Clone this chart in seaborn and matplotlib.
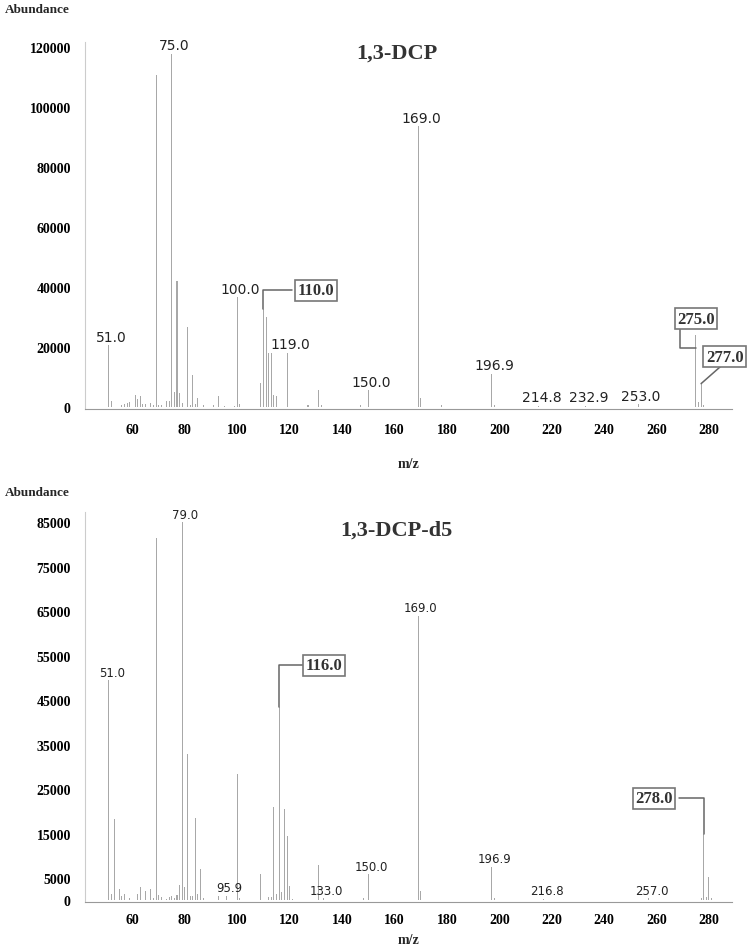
import numpy as np
import pandas as pd
import matplotlib
matplotlib.use("Agg")
import matplotlib.pyplot as plt
import seaborn as sns
from matplotlib.ticker import MultipleLocator, FixedLocator

# ---- 1,3-DCP spectrum (m/z, abundance) ----
mz_dcp = [51, 52, 56, 57, 58, 59, 61, 62, 63, 64, 65, 67, 68, 69, 70, 71, 73, 74,
          75, 76, 77, 78, 79, 81, 82, 83, 84, 85, 87, 91, 93, 95, 99, 100, 101,
          109, 110, 111, 112, 113, 114, 115, 119, 127, 131, 132, 147, 150, 169,
          170, 178, 197, 198, 215, 233, 253, 275, 276, 277, 278]
ab_dcp = [20500, 2000, 700, 1000, 1200, 1500, 4000, 2500, 3500, 800, 1000, 1200,
          600, 110800, 600, 500, 2000, 2000, 117700, 5000, 42000, 4500, 1200,
          26500, 500, 10500, 800, 3000, 600, 600, 3500, 400, 400, 36500, 800,
          8000, 32500, 30000, 18000, 18000, 4000, 3500, 18000, 500, 5500, 600,
          500, 5500, 93500, 3000, 500, 11000, 600, 300, 300, 900, 24000, 1500,
          7700, 600]
lab_dcp_x = [51, 75, 100, 119, 150, 169, 197, 215, 233, 253]
lab_dcp_y = [20500, 117700, 36500, 18000, 5500, 93500, 11000, 300, 300, 900]
lab_dcp_txt = ["51.0", "75.0", "100.0", "119.0", "150.0", "169.0", "196.9",
               "214.8", "232.9", "253.0"]

# ---- 1,3-DCP-d5 spectrum ----
mz_d5 = [51, 52, 53, 55, 56, 57, 59, 62, 63, 65, 67, 68, 69, 70, 71, 73, 74, 75,
         76, 77, 78, 79, 80, 81, 82, 83, 84, 85, 86, 87, 93, 96, 100, 101, 109,
         112, 113, 114, 115, 116, 117, 118, 119, 120, 121, 131, 133, 148, 150,
         169, 170, 197, 198, 217, 257, 277, 278, 279, 280, 281]
ab_d5 = [49500, 1500, 18200, 2500, 1000, 1500, 500, 1500, 3000, 2000, 2500, 500,
         81500, 1200, 700, 300, 700, 1000, 500, 1200, 3500, 85000, 3000, 33000,
         1000, 1000, 18500, 1500, 7000, 500, 1000, 1000, 28300, 500, 6000, 800,
         800, 21000, 1500, 43500, 1800, 20500, 14500, 3200, 300, 8000, 400, 400,
         5900, 64000, 2000, 7500, 500, 300, 500, 500, 15000, 800, 5300, 500]
lab_d5_x = [51, 79, 96, 133, 150, 169, 197, 217, 257]
lab_d5_y = [49500, 85000, 1000, 400, 5900, 64000, 7500, 300, 500]
lab_d5_txt = ["51.0", "79.0", "95.9", "133.0", "150.0", "169.0", "196.9",
              "216.8", "257.0"]

sns.set_style("white")
SERIF = "Liberation Serif"
SANS = "DejaVu Sans"
LINE = "#a8a8a8"

fig = plt.figure(figsize=(7.5, 9.45), dpi=100)
ax1 = fig.add_axes([0.113, 0.566, 0.863, 0.388])
ax2 = fig.add_axes([0.113, 0.044, 0.863, 0.413])


def spectrum(ax, mz, ab, ylim, yticks, title, title_y, labx, laby, labt,
             labsize, xpad, lpad):
    df = pd.DataFrame({"mz": mz, "abundance": ab})
    sns.barplot(data=df, x="mz", y="abundance", native_scale=True, width=0.4,
                color=LINE, linewidth=0, ax=ax)
    ax.set_xlim(41.8, 288.8)
    ax.set_ylim(*ylim)
    ax.yaxis.set_major_locator(FixedLocator(yticks))
    ax.yaxis.set_minor_locator(MultipleLocator(2500))
    ax.xaxis.set_major_locator(MultipleLocator(20))
    ax.xaxis.set_minor_locator(MultipleLocator(4))
    ax.tick_params(axis="both", which="both", direction="out", colors="#999999",
                   labelcolor="black")
    ax.tick_params(axis="x", which="major", length=4, pad=xpad)
    ax.tick_params(axis="x", which="minor", length=3)
    ax.tick_params(axis="y", which="major", length=3, pad=7)
    ax.tick_params(axis="y", which="minor", length=1.5)
    for t in ax.get_xticklabels() + ax.get_yticklabels():
        t.set_fontfamily(SERIF)
        t.set_fontweight("bold")
        t.set_fontsize(10)
    for s in ["top", "right"]:
        ax.spines[s].set_visible(False)
    ax.spines["left"].set_color("#cccccc")
    ax.spines["bottom"].set_color("#999999")
    ax.set_xlabel("m/z", fontfamily=SERIF, fontweight="bold", fontsize=10,
                  labelpad=lpad)
    ax.set_ylabel("")
    ax.text(0.482, title_y, title, transform=ax.transAxes, ha="center", va="top",
            fontfamily=SERIF, fontweight="bold", fontsize=16, color="#333333")
    for x, y, t in zip(labx, laby, labt):
        ax.annotate(t, (x, y), xytext=(2, 1), textcoords="offset points",
                    ha="center", va="bottom", fontfamily=SANS, fontsize=labsize,
                    color="#222222")


def boxed(ax, text, path_x, path_y, tx, ty):
    ax.plot(path_x, path_y, color="#666666", lw=1.1, clip_on=False)
    ax.text(tx, ty, text, ha="center", va="center", fontfamily=SERIF,
            fontweight="bold", fontsize=12, color="#333333", clip_on=False,
            bbox=dict(boxstyle="square,pad=0.15", fc="white", ec="#777777",
                      lw=1.2))


spectrum(ax1, mz_dcp, ab_dcp, (-800, 121500), list(range(0, 120001, 20000)),
         "1,3-DCP", 1.0, lab_dcp_x, lab_dcp_y, lab_dcp_txt, 10, 6, 15)
spectrum(ax2, mz_d5, ab_d5, (-500, 87300),
         [0] + list(range(5000, 85001, 10000)), "1,3-DCP-d5", 0.982,
         lab_d5_x, lab_d5_y, lab_d5_txt, 8.5, 3.5, 5)

# boxed annotations, top
boxed(ax1, "110.0", [110, 110, 121], [32500, 38800, 38800], 130, 38800)
boxed(ax1, "275.0", [268.8, 268.8, 275], [26000, 19700, 19700], 275, 29400)
boxed(ax1, "277.0", [284.8, 277], [13700, 7700], 286, 16700)
# boxed annotations, bottom
boxed(ax2, "116.0", [125.3, 116, 116], [52800, 52800, 43500], 133, 52800)
boxed(ax2, "278.0", [268.5, 278, 278], [22900, 22900, 15000], 259, 22900)

fig.text(0.006, 0.989, "Abundance", ha="left", va="center", fontfamily=SERIF,
         fontweight="bold", fontsize=9.5)
fig.text(0.006, 0.478, "Abundance", ha="left", va="center", fontfamily=SERIF,
         fontweight="bold", fontsize=9.5)

fig.savefig("out.png", dpi=100, facecolor="white")
